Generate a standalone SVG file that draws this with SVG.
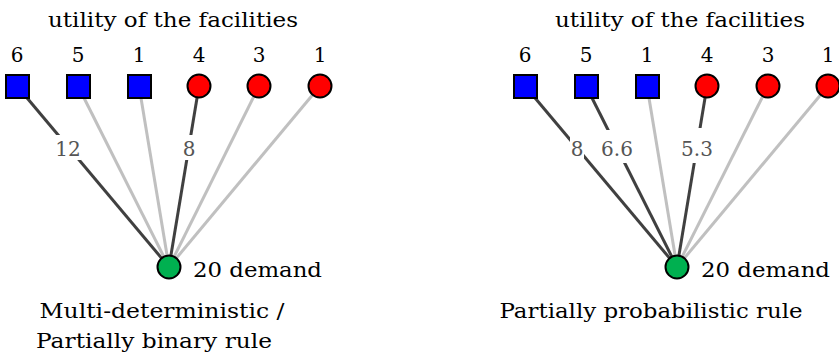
<svg xmlns="http://www.w3.org/2000/svg" width="839" height="355" viewBox="0 0 839 355">
<style>
text{font-family:'DejaVu Serif','Liberation Serif',serif;font-size:20px;fill:#000;text-anchor:middle}
.el{fill:#555}
.dk{stroke:#404040;stroke-width:3;fill:none}
.lt{stroke:#c0c0c0;stroke-width:3;fill:none}
.sq{fill:#0000ff;stroke:#000;stroke-width:2}
.ci{fill:#ff0000;stroke:#000;stroke-width:2}
.dm{fill:#00b050;stroke:#000;stroke-width:2}
.bg{fill:#fff}
</style>
<g id="connectors">
<line class="dk" x1="17" y1="86" x2="169" y2="267"/>
<line class="lt" x1="78" y1="86" x2="169" y2="267"/>
<line class="lt" x1="139" y1="86" x2="169" y2="267"/>
<line class="dk" x1="199" y1="86" x2="169" y2="267"/>
<line class="lt" x1="259" y1="86" x2="169" y2="267"/>
<line class="lt" x1="320" y1="86" x2="169" y2="267"/>
<rect class="bg" x="56" y="135" width="25" height="25"/>
<rect class="bg" x="182" y="135" width="14" height="25"/>
<text class="el" x="68" y="156">12</text>
<text class="el" x="189" y="156">8</text>
<line class="dk" x1="525" y1="86" x2="677" y2="267"/>
<line class="dk" x1="586" y1="86" x2="677" y2="267"/>
<line class="lt" x1="647" y1="86" x2="677" y2="267"/>
<line class="dk" x1="707" y1="86" x2="677" y2="267"/>
<line class="lt" x1="768" y1="86" x2="677" y2="267"/>
<line class="lt" x1="828" y1="86" x2="677" y2="267"/>
<rect class="bg" x="570" y="135" width="14" height="25"/>
<rect class="bg" x="601" y="130" width="32" height="33"/>
<rect class="bg" x="680" y="128" width="33" height="35"/>
<text class="el" x="577" y="156">8</text>
<text class="el" x="617" y="156">6.6</text>
<text class="el" x="697" y="156">5.3</text>
</g>
<g id="left">
<text x="173" y="27" textLength="250" lengthAdjust="spacingAndGlyphs">utility of the facilities</text>
<g id="L-f1"><rect class="sq" x="6" y="75" width="23" height="23"/><text x="17" y="62">6</text></g>
<g id="L-f2"><rect class="sq" x="67" y="75" width="23" height="23"/><text x="78" y="62">5</text></g>
<g id="L-f3"><rect class="sq" x="128" y="75" width="23" height="23"/><text x="139" y="62">1</text></g>
<g id="L-f4"><circle class="ci" cx="199" cy="86" r="11.5"/><text x="199" y="62">4</text></g>
<g id="L-f5"><circle class="ci" cx="259" cy="86" r="11.5"/><text x="259" y="62">3</text></g>
<g id="L-f6"><circle class="ci" cx="320" cy="86" r="11.5"/><text x="320" y="62">1</text></g>
<g id="L-demand"><circle class="dm" cx="169" cy="267" r="11.5"/><text x="193" y="277" style="text-anchor:start" textLength="129" lengthAdjust="spacingAndGlyphs">20 demand</text></g>
<text x="162" y="318" textLength="245" lengthAdjust="spacingAndGlyphs">Multi-deterministic /</text>
<text x="154" y="348" textLength="236" lengthAdjust="spacingAndGlyphs">Partially binary rule</text>
</g>
<g id="right">
<text x="680" y="27" textLength="250" lengthAdjust="spacingAndGlyphs">utility of the facilities</text>
<g id="R-f1"><rect class="sq" x="514" y="75" width="23" height="23"/><text x="525" y="62">6</text></g>
<g id="R-f2"><rect class="sq" x="575" y="75" width="23" height="23"/><text x="586" y="62">5</text></g>
<g id="R-f3"><rect class="sq" x="636" y="75" width="23" height="23"/><text x="647" y="62">1</text></g>
<g id="R-f4"><circle class="ci" cx="707" cy="86" r="11.5"/><text x="707" y="62">4</text></g>
<g id="R-f5"><circle class="ci" cx="768" cy="86" r="11.5"/><text x="768" y="62">3</text></g>
<g id="R-f6"><circle class="ci" cx="828" cy="86" r="11.5"/><text x="828" y="62">1</text></g>
<g id="R-demand"><circle class="dm" cx="677" cy="267" r="11.5"/><text x="701" y="277" style="text-anchor:start" textLength="129" lengthAdjust="spacingAndGlyphs">20 demand</text></g>
<text x="651" y="318" textLength="303" lengthAdjust="spacingAndGlyphs">Partially probabilistic rule</text>
</g>
</svg>
